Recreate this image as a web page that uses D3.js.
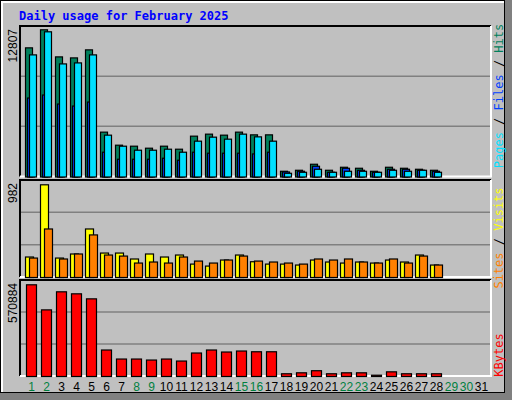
<!DOCTYPE html><html><head><meta charset="utf-8">
<script src="https://cdn.jsdelivr.net/npm/d3@7"></script>
<style>body{margin:0;background:#fff}</style></head><body><svg id="c" width="512" height="400"></svg>
<script>
const days = d3.range(1,32);
const weekend = [1,2,8,9,15,16,22,23,29,30];
const hits  = [11236,12807,10450,10362,11061,3902,2767,2680,2505,2680,2418,3553,3728,3640,3902,3667,3667,498,585,1109,585,847,760,498,847,760,672,585,0,0,0];
const files = [10624,12632,9839,9926,10624,3640,2680,2331,2331,2418,2156,3117,3466,3291,3728,3492,3117,323,410,672,410,498,498,410,585,498,585,410,0,0,0];
const pages = [6870,7132,6347,6172,6521,2156,1545,1545,1545,1632,1458,2156,2069,2069,2069,2008,2156,437,498,934,410,760,585,410,672,672,585,498,0,0,0];
const visits= [217,982,206,249,514,259,259,196,249,217,238,142,121,185,238,167,142,142,132,185,164,153,164,153,185,164,238,132,0,0,0];
const sites = [206,514,196,249,451,238,227,153,164,153,217,174,153,185,227,174,164,153,142,196,185,196,164,153,196,153,227,132,0,0,0];
const kbytes= [570884,414700,527200,514700,483400,164900,108700,108700,102400,108700,96200,146200,164900,152400,158600,154000,154000,17000,23000,36000,17000,23000,23000,8000,29000,17000,17000,17000,0,0,0];
const maxTop=12807, maxMid=982, maxBot=570884;

const svg=d3.select('#c');
const C={hits:'#00805c',files:'#00e0ff',pages:'#0040ff',visits:'#ffff00',sites:'#ff8000',kb:'#ff0000'};
svg.append('rect').attr('width',512).attr('height',400).attr('fill','#c0c0c0');
svg.append('rect').attr('x',0.5).attr('y',0.5).attr('width',504).attr('height',392).attr('fill','none').attr('stroke','#000');
svg.append('rect').attr('x',505).attr('y',0).attr('width',7).attr('height',400).attr('fill','#808080');
svg.append('rect').attr('x',0).attr('y',393).attr('width',512).attr('height',7).attr('fill','#808080');
svg.append('path').attr('d','M2,392V2H504').attr('stroke','#fff').attr('stroke-width',2).attr('fill','none');
svg.append('text').attr('x',19).attr('y',20).text('Daily usage for February 2025')
  .attr('font-family','DejaVu Sans Mono').attr('font-weight','bold').attr('font-size',12).attr('fill','#0000ff');

const x=d3.scaleBand().domain(days).range([25,490]).paddingInner(0);
const L=20,R=491;
function panel(y0,y1,top,max,label){
  const y=d3.scaleLinear().domain([0,max]).range([y1,top]);
  const g=svg.append('g');
  [1,2].forEach(i=>g.append('line').attr('x1',L).attr('x2',R).attr('y1',y1-(y1-y0)*i/3).attr('y2',y1-(y1-y0)*i/3).attr('stroke','#808080').attr('stroke-width',1.5));
  g.append('path').attr('d',`M${L},${y1}V${y0}H${R}`).attr('stroke','#000').attr('stroke-width',2).attr('fill','none');
  g.append('path').attr('d',`M${R},${y0}V${y1}H${L}`).attr('stroke','#fff').attr('stroke-width',2).attr('fill','none');
  g.append('text').attr('transform',`translate(17,${y0+3}) rotate(-90)`).attr('text-anchor','end')
   .attr('font-family','Liberation Sans').attr('font-size',12).text(label);
  return y;
}
function bars(data,y,off,w,col){
  svg.append('g').selectAll('rect').data(days.filter((d,i)=>data[i]>0)).join('rect')
   .attr('x',d=>x(d)+off+0.5).attr('width',w).attr('y',d=>y(data[d-1])+0.5).attr('height',d=>Math.max(1,y(0)-y(data[d-1])))
   .attr('fill',col).attr('stroke','#000').attr('stroke-width',1.2);
}
const yT=panel(26,176.5,29.3,maxTop,'12807');
bars(hits,yT,0,7,C.hits);
bars(pages,yT,2,7,C.pages);
bars(files,yT,4,7,C.files);
const yM=panel(180,277,184.3,maxMid,'982');
bars(visits,yM,0,8,C.visits);
bars(sites,yM,4,8,C.sites);
const yB=panel(280,376,284.3,maxBot,'570884');
bars(kbytes,yB,1,10,C.kb);

svg.append('g').selectAll('text').data(days).join('text')
 .attr('x',d=>x(d)+x.bandwidth()/2-1).attr('y',391).attr('text-anchor','middle')
 .attr('font-family','Liberation Sans').attr('font-size',12)
 .attr('fill',d=>weekend.includes(d)?'#008040':'#000').text(d=>d);

function side(yc,parts){
  const t=svg.append('text').attr('transform',`translate(503,${yc}) rotate(-90)`).attr('text-anchor','middle')
   .attr('font-family','DejaVu Sans Mono').attr('font-size',12);
  parts.forEach(p=>t.append('tspan').attr('fill',p[1]).text(p[0]));
}
side(96,[['Pages',C.files],[' / ','#000'],['Files',C.pages],[' / ','#000'],['Hits',C.hits]]);
side(238,[['Sites',C.sites],[' / ','#000'],['Visits',C.visits]]);
side(355,[['KBytes',C.kb]]);
</script></body></html>
